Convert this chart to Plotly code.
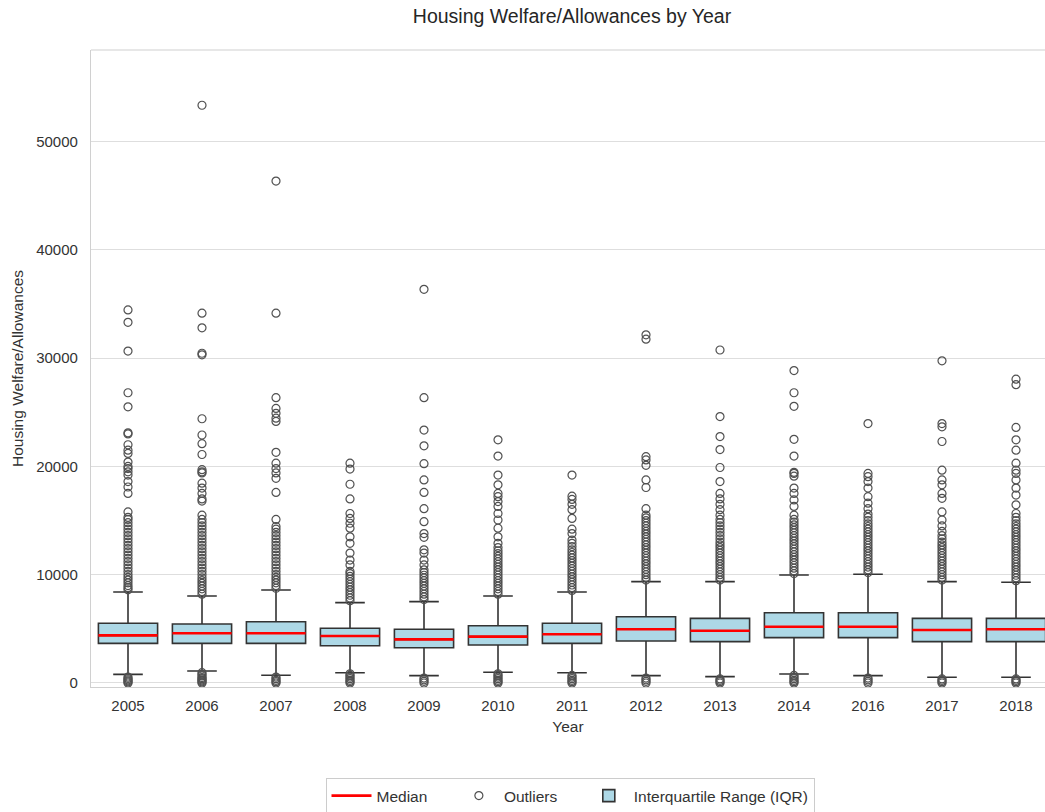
import plotly.graph_objects as go

# Years on the x axis (2015 has no data)
years = ["2005", "2006", "2007", "2008", "2009", "2010", "2011",
         "2012", "2013", "2014", "2016", "2017", "2018"]

# Box statistics per year
q1 = [3660, 3660, 3660, 3440, 3260, 3510, 3660, 3880, 3820, 4190, 4190, 3820, 3820]
median = [4400, 4590, 4590, 4340, 4030, 4280, 4500, 4960, 4830, 5200, 5200, 4890, 4960]
q3 = [5510, 5450, 5660, 5050, 4960, 5290, 5510, 6120, 5970, 6490, 6490, 5970, 5970]
lower_fence = [800, 1110, 710, 950, 680, 990, 950, 680, 590, 830, 680, 530, 530]
upper_fence = [8400, 8030, 8590, 7420, 7510, 8030, 8400, 9360, 9360, 9970, 10040, 9360, 9300]

# Outlying values per year
out_2005 = [0, 100, 200, 300, 420, 550,
            8600, 8800, 9000, 9250, 9500, 9750, 10000, 10300, 10600, 10900, 11200,
            11500, 11800, 12100, 12400, 12700, 13000, 13300, 13600, 13900, 14200,
            14500, 14800, 15100, 15300, 15800, 17500, 18100, 18600, 19200, 19500,
            19800, 20000, 20400, 21200, 21500, 22000, 23000, 23100, 25500, 26800,
            30650, 33300, 34450]
out_2006 = [0, 100, 200, 300, 400, 500, 650, 800, 950,
            8200, 8450, 8700, 8950, 9200, 9450, 9700, 10000, 10300, 10600, 10900,
            11200, 11500, 11800, 12100, 12400, 12700, 13000, 13300, 13600, 13900,
            14200, 14500, 14800, 15100, 15500, 16800, 17000, 17500, 18000, 18450,
            19400, 19500, 19700, 21100, 22100, 22900, 24400, 30300, 30450, 32800,
            34150, 53350]
out_2007 = [0, 120, 250, 400, 550,
            8750, 9000, 9250, 9500, 9750, 10000, 10300, 10600, 10900, 11200, 11500,
            11800, 12100, 12400, 12700, 13000, 13300, 13600, 13900, 14200, 14450,
            15100, 17600, 18900, 19400, 19800, 20300, 21300, 24150, 24450, 24900,
            25350, 26350, 34150, 46350]
out_2008 = [0, 120, 250, 400, 550, 700, 850,
            7600, 7850, 8100, 8350, 8600, 8850, 9100, 9350, 9600, 9850, 10100,
            10300, 10900, 11350, 12000, 12900, 13500, 14300, 14750, 15200, 15650,
            17000, 18350, 19750, 20300]
out_2009 = [0, 150, 300, 450,
            7700, 7950, 8200, 8450, 8700, 8950, 9200, 9450, 9700, 9950, 10200,
            10450, 10900, 11350, 12000, 12300, 13450, 13800, 14900, 16100, 17600,
            18750, 20250, 21900, 23350, 26350, 36350]
out_2010 = [0, 120, 250, 400, 550, 700, 850,
            8200, 8450, 8700, 8950, 9200, 9450, 9700, 9950, 10200, 10450, 10700,
            10950, 11200, 11450, 11700, 11950, 12200, 12500, 12900, 13500, 14300,
            15050, 15650, 16300, 16750, 17200, 17500, 18300, 19200, 20950, 22450]
out_2011 = [0, 120, 250, 400, 550, 700,
            8550, 8800, 9050, 9300, 9550, 9800, 10050, 10300, 10550, 10800, 11050,
            11300, 11550, 11800, 12050, 12300, 12600, 12900, 13200, 13800, 14200,
            15200, 16000, 16500, 16950, 17250, 19200]
out_2012 = [0, 150, 300, 450,
            9500, 9750, 10000, 10250, 10500, 10750, 11000, 11250, 11500, 11750,
            12000, 12250, 12500, 12750, 13000, 13250, 13500, 13750, 14000, 14250,
            14500, 14750, 15000, 15250, 15500, 16100, 18050, 18750, 20100, 20600,
            20900, 31750, 32150]
out_2013 = [0, 120, 250, 380,
            9500, 9750, 10000, 10250, 10500, 10750, 11000, 11250, 11500, 11750,
            12000, 12250, 12500, 12750, 13000, 13300, 13600, 13900, 14200, 14500,
            14800, 15100, 15500, 16000, 16500, 17000, 17500, 18600, 19900, 21550,
            22750, 24600, 30750]
out_2014 = [0, 120, 250, 400, 550, 700,
            10100, 10350, 10600, 10850, 11100, 11350, 11600, 11850, 12100, 12350,
            12600, 12850, 13100, 13350, 13600, 13850, 14100, 14350, 14600, 14850,
            15100, 15500, 16300, 16900, 17500, 18000, 19100, 19350, 19450, 20950,
            22500, 25550, 26800, 28850]
out_2016 = [0, 150, 300, 450,
            10200, 10450, 10700, 10950, 11200, 11450, 11700, 11950, 12200, 12450,
            12700, 12950, 13200, 13450, 13700, 13950, 14200, 14450, 14700, 15000,
            15300, 15600, 16100, 16600, 17200, 18000, 18600, 19050, 19350, 23950]
out_2017 = [0, 120, 250, 380,
            9500, 9750, 10000, 10250, 10500, 10750, 11000, 11250, 11500, 11750,
            12000, 12250, 12500, 12750, 13000, 13300, 13600, 14000, 14500, 15050,
            15800, 17050, 17500, 18300, 18750, 19650, 22300, 23650, 23950, 29750]
out_2018 = [0, 120, 250, 380,
            9450, 9700, 9950, 10200, 10450, 10700, 10950, 11200, 11450, 11700,
            11950, 12200, 12450, 12700, 12950, 13200, 13450, 13700, 13950, 14200,
            14450, 14700, 15000, 15300, 15650, 16450, 17350, 18000, 18750, 19350,
            19650, 20300, 21500, 22450, 23600, 27550, 28050]

outliers = [out_2005, out_2006, out_2007, out_2008, out_2009, out_2010, out_2011,
            out_2012, out_2013, out_2014, out_2016, out_2017, out_2018]

pos = list(range(len(years)))
BOX_W = 0.8
FONT = "Liberation Sans, Arial, sans-serif"
TXT = "#333333"
CLEAR = "rgba(0,0,0,0)"
GAP = "\u00a0" * 5  # extra room between legend entries

fig = go.Figure()

# Boxes with whiskers from the precomputed statistics
fig.add_trace(go.Box(
    x=pos, q1=q1, median=median, q3=q3,
    lowerfence=lower_fence, upperfence=upper_fence,
    width=BOX_W, whiskerwidth=0.5, boxpoints=False,
    fillcolor="#add8e6", line=dict(color="#333333", width=1.6),
    name="Interquartile Range (IQR)", legendrank=3, hoverinfo="skip",
))

# Outlier points
ox, oy = [], []
for i, vals in zip(pos, outliers):
    ox += [i] * len(vals)
    oy += vals
fig.add_trace(go.Scatter(
    x=ox, y=oy, mode="markers", name="Outliers" + GAP, legendrank=2,
    marker=dict(symbol="circle-open", size=8, color="#505050",
                line=dict(width=1.2, color="#505050")),
))

# Red median lines across each box
mx, my = [], []
for i, m in zip(pos, median):
    mx += [i - BOX_W / 2, i + BOX_W / 2, None]
    my += [m, m, None]
fig.add_trace(go.Scatter(
    x=mx, y=my, mode="lines", name="Median" + GAP, legendrank=1,
    line=dict(color="#ff0000", width=2.6),
))

fig.update_layout(
    width=1045, height=812,
    margin=dict(l=91, r=0, t=50, b=125),
    paper_bgcolor="white", plot_bgcolor="white",
    font=dict(family=FONT, size=15, color=TXT),
    title=dict(text="Housing Welfare/Allowances by Year",
               x=572 / 1045, xref="container", xanchor="center",
               y=1 - 16 / 812, yref="container", yanchor="middle",
               font=dict(size=19.5, color="#262626")),
    showlegend=True,
    legend=dict(orientation="h", xref="container", yref="container",
                x=570 / 1045, xanchor="center", y=16 / 812, yanchor="middle",
                bordercolor="#cccccc", borderwidth=1, bgcolor="white",
                font=dict(size=15.5, color=TXT), itemwidth=40),
    shapes=[dict(type="line", xref="paper", yref="paper", x0=0, x1=1, y0=1, y1=1,
                 line=dict(color="#d0d0d0", width=1.2))],
)

fig.update_xaxes(
    range=[-0.5, 12.5 - 8 / 74], tickmode="array", tickvals=pos, ticktext=years,
    showgrid=False, zeroline=False, showline=True, linecolor="#d0d0d0", linewidth=1.2,
    ticks="outside", ticklen=5, tickcolor=CLEAR, tickfont=dict(size=15),
    title=dict(text="Year", font=dict(size=15.5, color=TXT), standoff=8),
)
fig.update_yaxes(
    range=[-370, 58450], tickmode="array",
    tickvals=[0, 10000, 20000, 30000, 40000, 50000],
    ticktext=["0", "10000", "20000", "30000", "40000", "50000"],
    showgrid=True, gridcolor="#dedede", gridwidth=1, zeroline=False,
    showline=True, linecolor="#d0d0d0", linewidth=1.2,
    ticks="outside", ticklen=9, tickcolor=CLEAR, tickfont=dict(size=15),
    title=dict(text="Housing Welfare/Allowances", font=dict(size=15.5, color=TXT), standoff=8),
)

fig.write_html("out.html")
